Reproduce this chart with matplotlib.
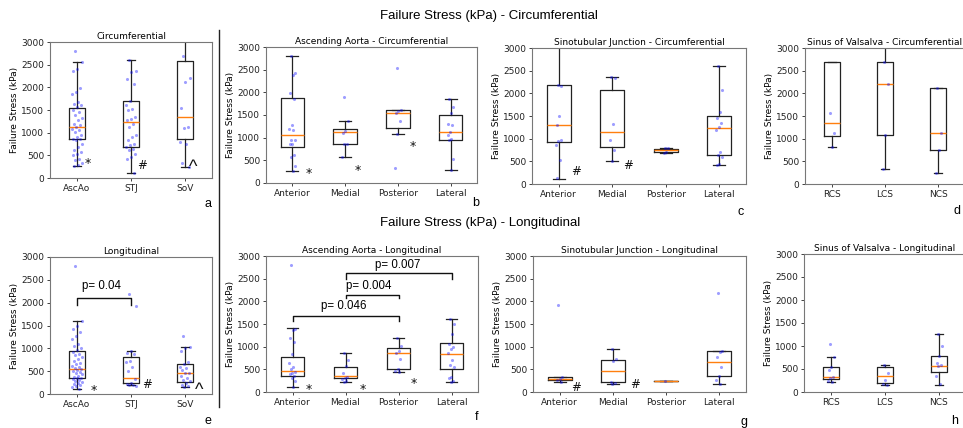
import numpy as np
import matplotlib
matplotlib.use("Agg")
import matplotlib.pyplot as plt
from matplotlib.lines import Line2D

# ---------------- data ----------------
region_cats = ["AscAo", "STJ", "SoV"]
quad_cats = ["Anterior", "Medial", "Posterior", "Lateral"]
sinus_cats = ["RCS", "LCS", "NCS"]

# (a) all circumferential
a_whislo = [260, 120, 240]
a_q1 = [860, 680, 870]
a_med = [1130, 1240, 1350]
a_q3 = [1555, 1700, 2580]
a_whishi = [2550, 2600, 3400]
a_pts = [
    [2800, 2550, 2400, 2360, 1980, 1890, 1850, 1670, 1630, 1600, 1560, 1490, 1460, 1380,
     1320, 1270, 1190, 1160, 1120, 1090, 1050, 1010, 940, 900, 870, 860, 830, 750, 680,
     610, 570, 530, 500, 420, 390, 330, 280, 260],
    [2600, 2360, 2330, 2180, 2070, 1700, 1600, 1520, 1490, 1340, 1300, 1270, 1190, 1120,
     940, 900, 830, 750, 720, 680, 650, 610, 530, 460, 420, 120],
    [2700, 2200, 2120, 1550, 1130, 1100, 800, 750, 320, 250],
]

# (b) ascending aorta circumferential
b_whislo = [260, 580, 1090, 290]
b_q1 = [800, 850, 1220, 950]
b_med = [1060, 1130, 1540, 1130]
b_q3 = [1880, 1200, 1610, 1500]
b_whishi = [2800, 1360, 1610, 1860]
b_pts = [
    [2800, 2430, 2380, 1990, 1860, 1290, 1200, 1170, 950, 940, 870, 860, 610, 580, 380, 270],
    [1900, 1360, 1150, 1110, 860, 850, 580],
    [2540, 1600, 1590, 1540, 1370, 1090, 330],
    [1860, 1680, 1540, 1300, 1270, 1130, 1060, 970, 950, 540, 290],
]

# (c) sinotubular junction circumferential
c_whislo = [120, 500, 680, 420]
c_q1 = [930, 810, 700, 630]
c_med = [1310, 1150, 740, 1240]
c_q3 = [2180, 2070, 770, 1500]
c_whishi = [3400, 2350, 800, 2600]
c_pts = [
    [2180, 2170, 1510, 1310, 960, 950, 860, 530, 130],
    [2350, 2330, 1320, 970, 760, 500],
    [800, 790, 700, 690],
    [2600, 2070, 1580, 1460, 1350, 1260, 1190, 700, 650, 600, 450, 420],
]

# (d) sinus of valsalva circumferential
d_whislo = [810, 320, 250]
d_q1 = [1050, 1080, 760]
d_med = [1340, 2200, 1130]
d_q3 = [2690, 2700, 2120]
d_whishi = [2690, 3400, 2120]
d_pts = [[1560, 1130, 810], [2700, 2200, 1080, 320], [2120, 1130, 760, 250]]

# (e) all longitudinal
e_whislo = [120, 190, 150]
e_q1 = [350, 230, 270]
e_med = [550, 340, 450]
e_q3 = [950, 800, 660]
e_whishi = [1600, 950, 1040]
e_pts = [
    [2800, 1600, 1500, 1420, 1350, 1280, 1200, 1100, 1060, 1000, 960, 920, 880, 850, 800,
     760, 720, 680, 650, 620, 590, 560, 540, 520, 500, 480, 450, 430, 400, 380, 360, 340,
     320, 300, 280, 260, 240, 220, 200, 180, 150, 120],
    [2180, 1920, 950, 900, 870, 720, 700, 600, 500, 320, 250, 220, 200, 190, 185],
    [1270, 1040, 1000, 950, 700, 650, 600, 560, 520, 470, 450, 400, 350, 300, 280, 250,
     200, 170, 150],
]

# (f) ascending aorta longitudinal
f_whislo = [120, 220, 450, 220]
f_q1 = [350, 300, 510, 510]
f_med = [460, 360, 850, 840]
f_q3 = [780, 550, 960, 1070]
f_whishi = [1410, 870, 1200, 1600]
f_pts = [
    [2800, 1400, 1370, 1200, 1100, 830, 650, 550, 500, 450, 430, 400, 350, 300, 250, 120],
    [870, 700, 570, 420, 330, 300, 280, 240, 220],
    [1200, 1010, 900, 860, 720, 500, 460, 450],
    [1600, 1500, 1270, 1050, 1000, 950, 850, 700, 600, 550, 340, 300, 250, 220],
]

# (g) sinotubular junction longitudinal
g_whislo = [220, 180, 240, 180]
g_q1 = [270, 220, 240, 350]
g_med = [280, 460, 240, 660]
g_q3 = [340, 700, 240, 900]
g_whishi = [340, 950, 240, 900]
g_pts = [[1910, 340, 290, 260, 220], [950, 720, 680, 220, 200, 180], [240],
         [2180, 900, 880, 770, 560, 360, 270, 180]]

# (h) sinus of valsalva longitudinal
h_whislo = [220, 150, 160]
h_q1 = [280, 200, 440]
h_med = [330, 340, 570]
h_q3 = [540, 550, 780]
h_whishi = [760, 590, 1260]
h_pts = [[1040, 760, 540, 470, 330, 300, 250, 220], [590, 420, 270, 180, 150],
         [1260, 1000, 780, 620, 580, 560, 340, 170]]

# p-value comparisons: (left group, right group, label)
e_pvals = [(1, 2, "p= 0.04")]
f_pvals = [(1, 3, "p= 0.046"), (2, 3, "p= 0.004"), (2, 4, "p= 0.007")]

# ---------------- drawing ----------------
W, H = 963, 428
fig = plt.figure(figsize=(W / 100, H / 100), dpi=100)
FS = 6.5
ARIAL = ["Liberation Sans", "DejaVu Sans"]


def add_ax(x0, x1, y0, y1):
    return fig.add_axes([x0 / W, 1 - y1 / H, (x1 - x0) / W, (y1 - y0) / H])


def panel(ax, cats, whislo, q1, med, q3, whishi, pts, title, spread):
    n = len(cats)
    stats = [dict(whislo=whislo[i], q1=q1[i], med=med[i], q3=q3[i], whishi=whishi[i],
                  fliers=[], label=cats[i]) for i in range(n)]
    width = min(0.5, 0.15 * (n - 1))
    lc = "#222222"
    ax.bxp(stats, positions=range(1, n + 1), widths=width, showfliers=False,
           boxprops=dict(color=lc, lw=0.9), whiskerprops=dict(color=lc, lw=0.9),
           capprops=dict(color=lc, lw=0.9), medianprops=dict(color="#ff7f0e", lw=1.0))
    for i, vals in enumerate(pts):
        v = np.asarray(vals, dtype=float)
        k = np.arange(len(v))
        off = ((k * 0.618034 + 0.31) % 1 - 0.5) * 2 * spread
        ax.scatter(i + 1 + off, v, s=5, color="blue", alpha=0.38, lw=0, zorder=3)
    ax.set_xlim(0.5, n + 0.5)
    ax.set_ylim(0, 3000)
    ax.set_yticks(range(0, 3001, 500))
    ax.tick_params(labelsize=FS, length=2.5, width=0.6, pad=1.5, colors="#222")
    ax.set_ylabel("Failure Stress (kPa)", fontsize=FS, labelpad=2)
    ax.set_title(title, fontsize=FS, pad=2)
    for s in ax.spines.values():
        s.set_color("#777")
        s.set_linewidth(0.8)


def sym(ax, x, y, s):
    if s == "^":
        fs, yoff, fam = 13, 0.5, ARIAL
    elif s == "#":
        fs, yoff, fam = 8.5, 0.36, ["DejaVu Sans"]
    else:
        fs, yoff, fam = 9, 0.55, ["DejaVu Sans"]
    ax.annotate(s, xy=(x, y), xytext=(0, -yoff * fs), textcoords="offset points",
                ha="center", va="baseline", fontsize=fs, color="#111", family=fam)


def brackets(ax, pvals, ylev, ylo, ytxt, xtxt):
    for (l, r, lab), yh, yl, yt, xt in zip(pvals, ylev, ylo, ytxt, xtxt):
        ax.plot([l, l, r, r], [yl, yh, yh, yl], color="#111", lw=1.0, clip_on=False)
        ax.text(xt, yt, lab, ha="center", va="center", fontsize=8.3, family=ARIAL)


ax_a = add_ax(50, 212, 42, 178)
panel(ax_a, region_cats, a_whislo, a_q1, a_med, a_q3, a_whishi, a_pts, "Circumferential", 0.1)
sym(ax_a, 1.2, 400, "*"); sym(ax_a, 2.2, 293, "#"); sym(ax_a, 3.15, 329, "^")

ax_b = add_ax(266, 477, 47, 183)
panel(ax_b, quad_cats, b_whislo, b_q1, b_med, b_q3, b_whishi, b_pts,
      "Ascending Aorta - Circumferential", 0.06)
sym(ax_b, 1.31, 293, "*"); sym(ax_b, 2.24, 352, "*"); sym(ax_b, 3.29, 880, "*")

ax_c = add_ax(532, 746, 48, 184)
panel(ax_c, quad_cats, c_whislo, c_q1, c_med, c_q3, c_whishi, c_pts,
      "Sinotubular Junction - Circumferential", 0.06)
sym(ax_c, 1.32, 301, "#"); sym(ax_c, 2.29, 426, "#")

ax_d = add_ax(805, 965, 48, 184)
panel(ax_d, sinus_cats, d_whislo, d_q1, d_med, d_q3, d_whishi, d_pts,
      "Sinus of Valsalva - Circumferential", 0.06)

ax_e = add_ax(50, 212, 257, 394)
panel(ax_e, region_cats, e_whislo, e_q1, e_med, e_q3, e_whishi, e_pts, "Longitudinal", 0.1)
sym(ax_e, 1.32, 161, "*"); sym(ax_e, 2.29, 234, "#"); sym(ax_e, 3.26, 183, "^")
brackets(ax_e, e_pvals, [2100], [1955], [2356], [1.46])

ax_f = add_ax(266, 478, 256, 392)
panel(ax_f, quad_cats, f_whislo, f_q1, f_med, f_q3, f_whishi, f_pts,
      "Ascending Aorta - Longitudinal", 0.06)
sym(ax_f, 1.31, 125, "*"); sym(ax_f, 2.32, 125, "*"); sym(ax_f, 3.28, 258, "*")
brackets(ax_f, f_pvals, [1673, 2138, 2617], [1563, 2063, 2485], [1894, 2337, 2801],
         [1.97, 2.43, 2.98])

ax_g = add_ax(533, 746, 256, 392)
panel(ax_g, quad_cats, g_whislo, g_q1, g_med, g_q3, g_whishi, g_pts,
      "Sinotubular Junction - Longitudinal", 0.06)
sym(ax_g, 1.31, 125, "#"); sym(ax_g, 2.42, 184, "#")

ax_h = add_ax(804, 966, 254, 392)
panel(ax_h, sinus_cats, h_whislo, h_q1, h_med, h_q3, h_whishi, h_pts,
      "Sinus of Valsalva - Longitudinal", 0.06)

# figure-level text
fig.text(380 / W, 1 - 16 / H, "Failure Stress (kPa) - Circumferential", fontsize=9.5,
         family=ARIAL, ha="left", va="center")
fig.text(380 / W, 1 - 223 / H, "Failure Stress (kPa) - Longitudinal", fontsize=9.5,
         family=ARIAL, ha="left", va="center")
for lab, px, py in [("a", 208, 204), ("b", 476, 203), ("c", 741, 212), ("d", 957, 211),
                    ("e", 208, 421), ("f", 477, 417), ("g", 744, 422), ("h", 955, 421)]:
    fig.text(px / W, 1 - py / H, lab, fontsize=9, family=ARIAL, ha="center", va="center")

fig.add_artist(Line2D([219 / W, 219 / W], [1 - 30 / H, 1 - 407 / H], color="#222", lw=1.0))

fig.savefig("out.png", dpi=100)
